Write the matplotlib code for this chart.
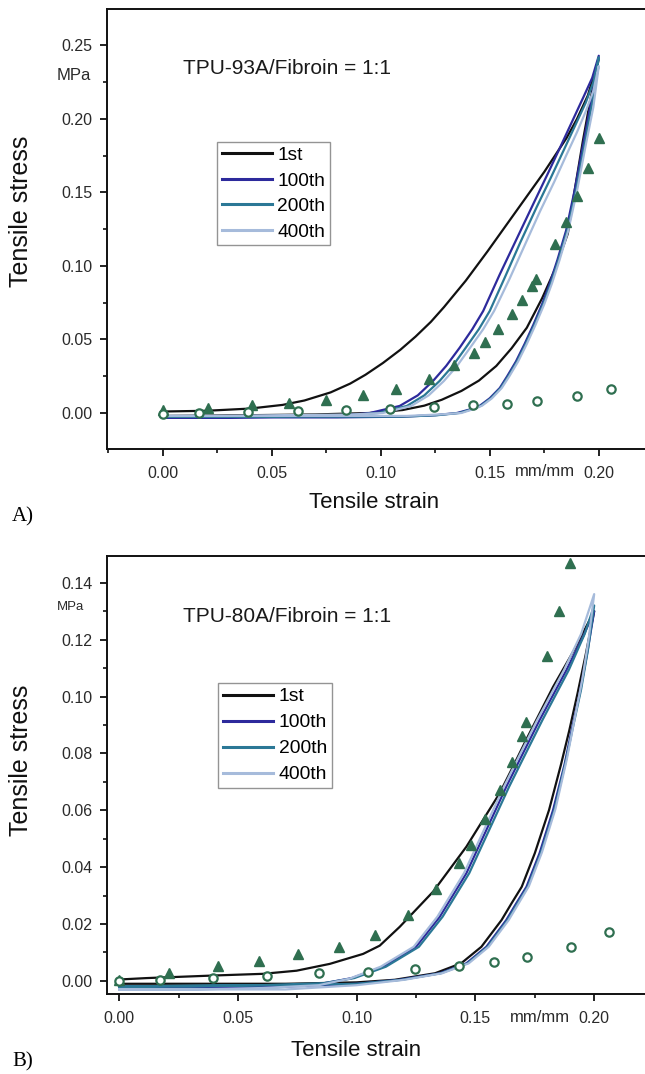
import matplotlib
matplotlib.use("Agg")
import matplotlib.pyplot as plt
from matplotlib.ticker import MultipleLocator, FormatStrFormatter

plt.rcParams['font.family'] = ['Liberation Sans', 'DejaVu Sans']

# ---------------- data ----------------
cycle_labels = ["1st", "100th", "200th", "400th"]
cycle_colors = ["#111111", "#2d2a9c", "#2b7896", "#a6bbdb"]
marker_color = "#2f6f50"

# Panel A: TPU-93A/Fibroin = 1:1  (loading then unloading, strain mm/mm, stress MPa)
a_1st_x = [0.000, 0.020, 0.040, 0.055, 0.065, 0.077, 0.086, 0.093, 0.101, 0.109, 0.116, 0.123, 0.129, 0.139, 0.149, 0.162, 0.175, 0.1852, 0.190, 0.195, 0.200,
           0.196, 0.1927, 0.189, 0.1858, 0.180, 0.174, 0.167, 0.160, 0.153, 0.145, 0.137, 0.128, 0.120, 0.110, 0.095, 0.070, 0.040, 0.000]
a_1st_y = [0.001, 0.0015, 0.003, 0.0055, 0.0085, 0.014, 0.020, 0.026, 0.034, 0.043, 0.052, 0.062, 0.072, 0.090, 0.110, 0.137, 0.164, 0.187, 0.200, 0.216, 0.241,
           0.212, 0.185, 0.152, 0.122, 0.098, 0.078, 0.058, 0.044, 0.032, 0.022, 0.015, 0.009, 0.005, 0.002, 0.000, -0.001, -0.0015, -0.002]
a_100_x = [0.000, 0.030, 0.060, 0.080, 0.095, 0.1087, 0.117, 0.124, 0.130, 0.1362, 0.142, 0.147, 0.1546, 0.1622, 0.1699, 0.177, 0.183, 0.188, 0.193, 0.197, 0.200,
           0.1965, 0.193, 0.189, 0.185, 0.181, 0.1775, 0.174, 0.170, 0.166, 0.162, 0.158, 0.1546, 0.150, 0.1455, 0.1423, 0.135, 0.125, 0.110, 0.080, 0.040, 0.000]
a_100_y = [-0.003, -0.003, -0.0025, -0.002, 0.000, 0.0048, 0.012, 0.0218, 0.032, 0.0444, 0.057, 0.0694, 0.0943, 0.118, 0.142, 0.164, 0.183, 0.199, 0.215, 0.228, 0.243,
           0.212, 0.184, 0.152, 0.124, 0.104, 0.088, 0.074, 0.060, 0.047, 0.035, 0.025, 0.017, 0.010, 0.005, 0.003, 0.000, -0.0015, -0.0025, -0.003, -0.003, -0.003]
a_200_x = [0.000, 0.030, 0.060, 0.085, 0.099, 0.112, 0.120, 0.127, 0.133, 0.139, 0.145, 0.150, 0.157, 0.164, 0.1715, 0.178, 0.184, 0.189, 0.194, 0.1975, 0.200,
           0.197, 0.1935, 0.1895, 0.1855, 0.1815, 0.178, 0.1745, 0.1705, 0.1665, 0.1625, 0.1585, 0.155, 0.1505, 0.146, 0.1428, 0.136, 0.126, 0.110, 0.080, 0.040, 0.000]
a_200_y = [-0.0025, -0.0025, -0.002, -0.0015, 0.000, 0.0048, 0.012, 0.0218, 0.032, 0.0444, 0.057, 0.0694, 0.0925, 0.116, 0.140, 0.160, 0.179, 0.195, 0.211, 0.225, 0.242,
           0.211, 0.183, 0.151, 0.124, 0.104, 0.088, 0.074, 0.060, 0.047, 0.035, 0.025, 0.017, 0.010, 0.005, 0.003, 0.000, -0.0015, -0.0025, -0.0025, -0.0025, -0.0025]
a_400_x = [0.000, 0.030, 0.060, 0.087, 0.101, 0.114, 0.122, 0.129, 0.135, 0.141, 0.147, 0.152, 0.159, 0.166, 0.173, 0.1795, 0.185, 0.190, 0.194, 0.1975, 0.200,
           0.1975, 0.194, 0.190, 0.186, 0.182, 0.1785, 0.175, 0.171, 0.167, 0.163, 0.159, 0.1555, 0.151, 0.1465, 0.1433, 0.137, 0.127, 0.112, 0.080, 0.040, 0.000]
a_400_y = [-0.002, -0.002, -0.0015, -0.001, 0.000, 0.0048, 0.012, 0.0218, 0.032, 0.0444, 0.057, 0.0694, 0.091, 0.114, 0.137, 0.157, 0.175, 0.191, 0.205, 0.219, 0.236,
           0.208, 0.182, 0.151, 0.124, 0.104, 0.088, 0.074, 0.060, 0.047, 0.035, 0.025, 0.017, 0.010, 0.005, 0.003, 0.000, -0.001, -0.002, -0.002, -0.002, -0.002]
a_tri_x = [0.000, 0.021, 0.041, 0.058, 0.075, 0.092, 0.107, 0.122, 0.1335, 0.1427, 0.148, 0.154, 0.160, 0.165, 0.1694, 0.1714, 0.1798, 0.185, 0.190, 0.1951, 0.200]
a_tri_y = [0.002, 0.0034, 0.0054, 0.007, 0.0088, 0.012, 0.016, 0.023, 0.0326, 0.041, 0.048, 0.057, 0.067, 0.077, 0.0864, 0.091, 0.1147, 0.130, 0.1476, 0.1669, 0.1873]
a_circ_x = [0.000, 0.0167, 0.039, 0.062, 0.084, 0.1044, 0.1245, 0.1424, 0.1577, 0.1717, 0.1898, 0.2058]
a_circ_y = [-0.0005, 0.000, 0.0005, 0.0014, 0.002, 0.0025, 0.004, 0.0054, 0.0063, 0.0082, 0.0116, 0.0166]

# Panel B: TPU-80A/Fibroin = 1:1
b_1st_x = [0.000, 0.0115, 0.0396, 0.0606, 0.0747, 0.0887, 0.1027, 0.1097, 0.1181, 0.1322, 0.1462, 0.1532, 0.1602, 0.1658, 0.1715, 0.1827, 0.192, 0.200,
           0.1965, 0.193, 0.1895, 0.186, 0.181, 0.175, 0.1695, 0.165, 0.161, 0.1525, 0.144, 0.133, 0.116, 0.100, 0.070, 0.040, 0.000]
b_1st_y = [0.0005, 0.001, 0.0019, 0.0025, 0.0036, 0.006, 0.0095, 0.0124, 0.019, 0.0314, 0.0472, 0.0566, 0.066, 0.0753, 0.085, 0.1034, 0.117, 0.130,
           0.115, 0.1011, 0.088, 0.076, 0.0601, 0.0449, 0.0331, 0.027, 0.0214, 0.012, 0.0062, 0.0027, 0.0004, -0.0005, -0.001, -0.001, -0.001]
b_100_x = [0.000, 0.030, 0.060, 0.085, 0.098, 0.1111, 0.125, 0.135, 0.1462, 0.1546, 0.163, 0.1686, 0.177, 0.1883, 0.1953, 0.200,
           0.197, 0.1939, 0.1905, 0.1875, 0.1827, 0.177, 0.1715, 0.167, 0.163, 0.1546, 0.1462, 0.135, 0.118, 0.100, 0.070, 0.040, 0.000]
b_100_y = [-0.0025, -0.0025, -0.002, -0.001, 0.001, 0.005, 0.012, 0.0226, 0.0379, 0.0531, 0.0683, 0.0777, 0.0917, 0.1093, 0.121, 0.130,
           0.115, 0.1011, 0.088, 0.076, 0.0601, 0.0449, 0.0331, 0.027, 0.0214, 0.012, 0.0062, 0.0027, 0.0004, -0.001, -0.002, -0.002, -0.0025]
b_200_x = [0.000, 0.030, 0.060, 0.086, 0.099, 0.1123, 0.1262, 0.1362, 0.1474, 0.1558, 0.1642, 0.1698, 0.1782, 0.1893, 0.196, 0.200,
           0.1975, 0.1945, 0.191, 0.188, 0.1832, 0.1775, 0.172, 0.1675, 0.1635, 0.1551, 0.1467, 0.1355, 0.119, 0.100, 0.070, 0.040, 0.000]
b_200_y = [-0.002, -0.002, -0.0015, -0.0008, 0.001, 0.005, 0.012, 0.0226, 0.0379, 0.0531, 0.0683, 0.0777, 0.0917, 0.1093, 0.122, 0.132,
           0.117, 0.1025, 0.089, 0.077, 0.0601, 0.0449, 0.0331, 0.027, 0.0214, 0.012, 0.0062, 0.0027, 0.0004, -0.001, -0.0015, -0.0015, -0.002]
b_400_x = [0.000, 0.030, 0.060, 0.084, 0.097, 0.1101, 0.124, 0.134, 0.1452, 0.1536, 0.162, 0.1676, 0.176, 0.1873, 0.1945, 0.200,
           0.1978, 0.195, 0.1915, 0.1885, 0.1837, 0.178, 0.1725, 0.168, 0.164, 0.1556, 0.1472, 0.136, 0.12, 0.100, 0.070, 0.040, 0.000]
b_400_y = [-0.003, -0.003, -0.0025, -0.0015, 0.0008, 0.005, 0.012, 0.0226, 0.0379, 0.0531, 0.0683, 0.0777, 0.0917, 0.1093, 0.122, 0.136,
           0.121, 0.106, 0.091, 0.078, 0.0605, 0.0452, 0.0333, 0.027, 0.0214, 0.012, 0.0062, 0.0027, 0.0004, -0.0015, -0.003, -0.003, -0.003]
b_tri_x = [0.000, 0.0209, 0.0414, 0.0588, 0.0753, 0.0926, 0.1077, 0.1214, 0.1336, 0.1431, 0.148, 0.1542, 0.1602, 0.1655, 0.1694, 0.1715, 0.1803, 0.1852, 0.190]
b_tri_y = [0.0005, 0.0027, 0.0053, 0.007, 0.0094, 0.0119, 0.0163, 0.0232, 0.0322, 0.0414, 0.0478, 0.0568, 0.0671, 0.0771, 0.0861, 0.0909, 0.1143, 0.130, 0.1468]
b_circ_x = [0.000, 0.0171, 0.0393, 0.0624, 0.0843, 0.1046, 0.1244, 0.143, 0.1578, 0.1719, 0.1901, 0.2062]
b_circ_y = [0.000, 0.0004, 0.001, 0.0019, 0.0027, 0.0033, 0.0041, 0.0053, 0.0068, 0.0083, 0.0118, 0.0171]

# ---------------- figure ----------------
W, H = 645, 1074
fig = plt.figure(figsize=(W / 100, H / 100), dpi=100)


def fx(px):
    return px / W


def fy(py):
    return 1 - py / H


def panel(ax, loops, tri, circ, title, title_xy, xlim, ylim, ymajor, yminor,
          mpa_xy, mpa_size, legend_bbox, legend_size, label_spacing):
    for (x, y), lab, col in zip(loops, cycle_labels, cycle_colors):
        ax.plot(x, y, color=col, lw=1.6, label=lab, solid_joinstyle='round', zorder=2)
    ax.plot(tri[0], tri[1], ls='none', marker='^', ms=7.5, mfc=marker_color, mec=marker_color, zorder=4)
    ax.plot(circ[0], circ[1], ls='none', marker='o', ms=6, mfc='white', mec=marker_color, mew=1.6, zorder=4)
    ax.set_xlim(*xlim)
    ax.set_ylim(*ylim)
    ax.xaxis.set_major_locator(MultipleLocator(0.05))
    ax.xaxis.set_minor_locator(MultipleLocator(0.025))
    ax.xaxis.set_major_formatter(FormatStrFormatter('%.2f'))
    ax.yaxis.set_major_locator(MultipleLocator(ymajor))
    ax.yaxis.set_minor_locator(MultipleLocator(yminor))
    ax.yaxis.set_major_formatter(FormatStrFormatter('%.2f'))
    ax.tick_params(which='major', direction='out', length=5, width=1.3, labelsize=11.5,
                   colors='#111111', labelcolor='#2a2a2a')
    ax.tick_params(axis='y', which='major', pad=5.5)
    ax.tick_params(axis='x', which='major', pad=7)
    ax.tick_params(which='minor', direction='out', length=3, width=1.2, colors='#111111')
    ax.spines['right'].set_visible(False)
    for s in ('left', 'bottom', 'top'):
        ax.spines[s].set_linewidth(1.4)
        ax.spines[s].set_color('#111111')
    fig.text(title_xy[0], title_xy[1], title, fontsize=15,
             color='#1a1a1a', ha='left', va='center')
    fig.text(mpa_xy[0], mpa_xy[1], "MPa", fontsize=mpa_size,
             color='#2a2a2a', ha='center', va='center')
    leg = ax.legend(loc='upper left', bbox_to_anchor=legend_bbox, bbox_transform=fig.transFigure,
                    fontsize=legend_size, frameon=True, fancybox=False, edgecolor='#7a7a7a',
                    handlelength=2.6, handletextpad=0.3, labelspacing=label_spacing,
                    borderpad=0.25, borderaxespad=0.0)
    leg.get_frame().set_linewidth(1.0)
    for line in leg.get_lines():
        line.set_linewidth(2.2)


# Panel A
axA = fig.add_axes([fx(107.3), fy(449.3), 1 - fx(107.3), fy(9.3) - fy(449.3)])
panel(axA,
      [(a_1st_x, a_1st_y), (a_100_x, a_100_y), (a_200_x, a_200_y), (a_400_x, a_400_y)],
      (a_tri_x, a_tri_y), (a_circ_x, a_circ_y),
      "TPU-93A/Fibroin = 1:1", (fx(183), fy(69)),
      (-0.0254, 0.2212), (-0.0247, 0.2746), 0.05, 0.025,
      (fx(74), fy(75)), 12, (fx(217), fy(142)), 13.8, 0.42)
fig.text(fx(545), fy(471), "mm/mm", fontsize=12, color='#2a2a2a', ha='center', va='center')
fig.text(fx(374), fy(502), "Tensile strain", fontsize=16, color='#111111', ha='center', va='center')
fig.text(fx(21), fy(211), "Tensile stress", fontsize=18, color='#111111', ha='center', va='center',
         rotation=90)
fig.text(fx(12), fy(517), "A)", fontsize=15, family='Liberation Serif', ha='left', va='center')

# Panel B
axB = fig.add_axes([fx(107.3), fy(994.3), 1 - fx(107.3), fy(556) - fy(994.3)])
panel(axB,
      [(b_1st_x, b_1st_y), (b_100_x, b_100_y), (b_200_x, b_200_y), (b_400_x, b_400_y)],
      (b_tri_x, b_tri_y), (b_circ_x, b_circ_y),
      "TPU-80A/Fibroin = 1:1", (fx(183), fy(617)),
      (-0.005, 0.2214), (-0.0047, 0.1494), 0.02, 0.01,
      (fx(70), fy(607)), 9.5, (fx(218), fy(683)), 13.9, 0.44)
fig.text(fx(540), fy(1018), "mm/mm", fontsize=12, color='#2a2a2a', ha='center', va='center')
fig.text(fx(356), fy(1050), "Tensile strain", fontsize=16, color='#111111', ha='center', va='center')
fig.text(fx(21), fy(760), "Tensile stress", fontsize=18, color='#111111', ha='center', va='center',
         rotation=90)
fig.text(fx(12), fy(1062), "B)", fontsize=15, family='Liberation Serif', ha='left', va='center')

fig.savefig("out.png", dpi=100, facecolor='white')
